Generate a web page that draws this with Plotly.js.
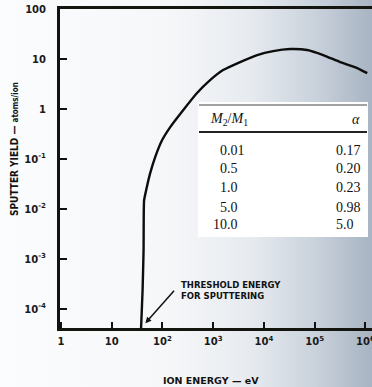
<!DOCTYPE html>
<html>
<head>
<meta charset="utf-8">
<script src="https://cdn.plot.ly/plotly-3.0.1.min.js"></script>
<style>
html,body{margin:0;padding:0;}
body{width:372px;height:387px;overflow:hidden;
background:linear-gradient(to right,#fbfcfd 0%,#f6f7f9 45%,#e6eaef 68%,#c9d1db 85%,#a8b4c3 100%);}
#chart{width:372px;height:387px;}
</style>
</head>
<body>
<div id="chart"></div>
<script>
// Sputter yield curve (ion energy in eV, yield in atoms/ion)
var energy = [37.8, 40.5, 42.4, 43.4, 47.5, 56.9, 71.5, 98, 141, 255, 475, 869, 1567, 3393, 7350, 15200, 32900, 71100, 147000, 318000, 689000, 1087000];
var yieldVals = [0.00004, 0.00023, 0.0015, 0.0148, 0.0234, 0.051, 0.108, 0.237, 0.43, 0.946, 2.07, 3.78, 6.0, 8.67, 12.0, 14.4, 15.8, 15.1, 12.0, 8.67, 6.58, 5.21];

// Axis ticks
var yTickVals = [100, 10, 1, 0.1, 0.01, 0.001, 0.0001];
var yTickText = ['100', '10', '1', '10<sup>-1</sup>', '10<sup>-2</sup>', '10<sup>-3</sup>', '10<sup>-4</sup>'];
var xTickVals = [1, 10, 100, 1000, 10000, 100000, 1000000];
var xTickText = ['1', '10', '10<sup>2</sup>', '10<sup>3</sup>', '10<sup>4</sup>', '10<sup>5</sup>', '10<sup>6</sup>'];

// Inset table
var massRatio = ['0.01', '0.5', '1.0', '5.0', '10.0'];
var alphaVals = ['0.17', '0.20', '0.23', '0.98', '5.0'];

// Texts
var yTitle = 'SPUTTER YIELD — <span style="font-size:8px">atoms/ion</span>';
var xTitle = 'ION ENERGY — eV';
var thresholdLabel = 'THRESHOLD ENERGY<br>FOR SPUTTERING';
var thresholdEnergy = 46;
var thresholdYield = 0.000052;

var W = 372, H = 387;
var M = {l: 60, r: 0, t: 9, b: 59};
var pw = W - M.l - M.r, ph = H - M.t - M.b;
function px(x){ return (x - M.l) / pw; }
function py(y){ return (H - M.b - y) / ph; }
function bold(s){ return '<b>' + s + '</b>'; }

var sansB = 'DejaVu Sans, Liberation Sans, Arial, sans-serif';
var tickFont = {family: sansB, size: 10, color: '#1a1a1a'};
var serif = {family: 'Liberation Serif, Times New Roman, serif', size: 14, color: '#111'};

var shapes = [
  {type: 'rect', xref: 'paper', yref: 'paper', x0: px(198), x1: px(368), y0: py(237), y1: py(102),
   fillcolor: '#ffffff', line: {width: 0}, layer: 'above'},
  {type: 'line', xref: 'paper', yref: 'paper', x0: px(199), x1: px(367), y0: py(105), y1: py(105),
   line: {color: '#444', width: 1}},
  {type: 'line', xref: 'paper', yref: 'paper', x0: px(199), x1: px(367), y0: py(132), y1: py(132),
   line: {color: '#222', width: 2}}
];

var annotations = [];
annotations.push({xref: 'paper', yref: 'paper', x: px(229), y: py(119), text: '<i>M</i><sub>2</sub>/<i>M</i><sub>1</sub>',
  showarrow: false, font: serif, xanchor: 'center', yanchor: 'middle'});
annotations.push({xref: 'paper', yref: 'paper', x: px(356), y: py(119), text: '<i>α</i>',
  showarrow: false, font: serif, xanchor: 'center', yanchor: 'middle'});
var rowY = [150, 169, 188, 207, 224];
for (var i = 0; i < massRatio.length; i++) {
  var t = massRatio[i];
  var intPart = t.split('.')[0];
  var pad = intPart.length < 2 ? '\u2007' : '';
  annotations.push({xref: 'paper', yref: 'paper', x: px(211), y: py(rowY[i]), text: pad + t,
    showarrow: false, font: serif, xanchor: 'left', yanchor: 'middle'});
  annotations.push({xref: 'paper', yref: 'paper', x: px(334), y: py(rowY[i]), text: alphaVals[i],
    showarrow: false, font: serif, xanchor: 'left', yanchor: 'middle'});
}
annotations.push({xref: 'x', yref: 'y', x: Math.log10(thresholdEnergy), y: Math.log10(thresholdYield),
  text: '', showarrow: true, arrowhead: 2, arrowsize: 0.8, arrowwidth: 1.5, arrowcolor: '#111',
  ax: 30, ay: -34});
annotations.push({xref: 'paper', yref: 'paper', x: px(179), y: py(290), text: bold(thresholdLabel),
  showarrow: false, xanchor: 'left', yanchor: 'middle', align: 'left',
  font: {family: sansB, size: 8.5, color: '#111'}});
annotations.push({xref: 'paper', yref: 'paper', x: px(14), y: py(149), text: bold(yTitle), textangle: -90,
  showarrow: false, xanchor: 'center', yanchor: 'middle',
  font: {family: 'DejaVu Sans Condensed, DejaVu Sans, sans-serif', size: 10, color: '#111'}});
annotations.push({xref: 'paper', yref: 'paper', x: px(211), y: py(380), text: bold(xTitle),
  showarrow: false, xanchor: 'center', yanchor: 'middle',
  font: {family: sansB, size: 9.5, color: '#111'}});

var trace = {x: energy, y: yieldVals, type: 'scatter', mode: 'lines',
  line: {color: '#0d0d0d', width: 2.4, shape: 'spline', smoothing: 0.5}, hoverinfo: 'none'};

var layout = {
  width: W, height: H, margin: M,
  paper_bgcolor: 'rgba(0,0,0,0)', plot_bgcolor: 'rgba(0,0,0,0)',
  showlegend: false,
  xaxis: {type: 'log', range: [-0.02, 6.13], tickvals: xTickVals, ticktext: xTickText.map(bold),
    ticks: 'inside', ticklen: 6, tickwidth: 2, tickcolor: '#111',
    showline: true, linewidth: 3, linecolor: '#151510', mirror: true,
    showgrid: false, zeroline: false, tickfont: tickFont, ticklabelstandoff: 2,
    ticklabeloverflow: 'allow', automargin: false},
  yaxis: {type: 'log', range: [-4.38, 2.0], tickvals: yTickVals, ticktext: yTickText.map(bold),
    ticks: 'inside', ticklen: 7, tickwidth: 2, tickcolor: '#111',
    showline: true, linewidth: 3, linecolor: '#111', mirror: false,
    showgrid: false, zeroline: false, tickfont: tickFont, ticklabelstandoff: 9,
    automargin: false},
  shapes: shapes,
  annotations: annotations
};

Plotly.newPlot('chart', [trace], layout, {displayModeBar: false});
</script>
</body>
</html>
